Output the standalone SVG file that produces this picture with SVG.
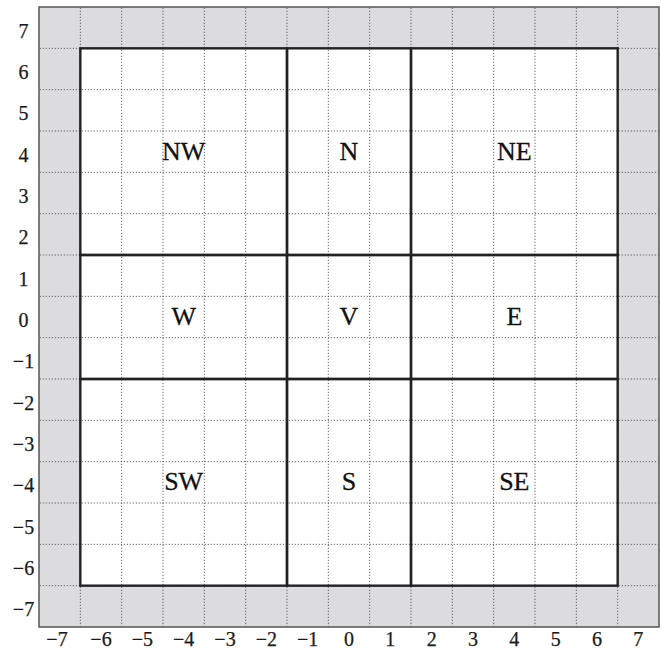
<svg xmlns="http://www.w3.org/2000/svg" width="661" height="651" viewBox="0 0 661 651">
  <style>
    .tick { font-family: "Liberation Serif", "Times New Roman", serif; font-size: 20px; fill: #1a1a1a; stroke: #1a1a1a; stroke-width: 0.25; text-anchor: middle; }
    .lbl { font-family: "Liberation Serif", "Times New Roman", serif; font-size: 26px; fill: #111; stroke: #111; stroke-width: 0.3; text-anchor: middle; }
    .cell { fill: none; stroke: #222; stroke-width: 2.4; }
    .grid { fill: none; stroke: #444; stroke-width: 1; stroke-dasharray: 1 2; }
  </style>
  <rect x="0" y="0" width="661" height="651" fill="#ffffff"/>
  <g id="background">
    <rect x="39" y="7" width="620" height="620" fill="#dcdcde" stroke="#555" stroke-width="1.5"/>
    <rect x="80.33" y="48.33" width="537.33" height="537.33" fill="#ffffff"/>
  </g>
  <g id="grid">
    <path class="grid" d="M80.33 7.8V626.2 M121.67 7.8V626.2 M163 7.8V626.2 M204.33 7.8V626.2 M245.67 7.8V626.2 M287 7.8V626.2 M328.33 7.8V626.2 M369.67 7.8V626.2 M411 7.8V626.2 M452.33 7.8V626.2 M493.67 7.8V626.2 M535 7.8V626.2 M576.33 7.8V626.2 M617.67 7.8V626.2"/>
    <path class="grid" d="M39.8 48.33H658.2 M39.8 89.67H658.2 M39.8 131H658.2 M39.8 172.33H658.2 M39.8 213.67H658.2 M39.8 255H658.2 M39.8 296.33H658.2 M39.8 337.67H658.2 M39.8 379H658.2 M39.8 420.33H658.2 M39.8 461.67H658.2 M39.8 503H658.2 M39.8 544.33H658.2 M39.8 585.67H658.2"/>
  </g>
  <g id="connectors"></g>
  <g id="NW"><rect class="cell" x="80.33" y="48.33" width="206.67" height="206.67"/><text class="lbl" x="183.67" y="160">NW</text></g>
  <g id="N"><rect class="cell" x="287" y="48.33" width="124" height="206.67"/><text class="lbl" x="349" y="160">N</text></g>
  <g id="NE"><rect class="cell" x="411" y="48.33" width="206.67" height="206.67"/><text class="lbl" x="514.33" y="160">NE</text></g>
  <g id="W"><rect class="cell" x="80.33" y="255" width="206.67" height="124"/><text class="lbl" x="183.67" y="325.3">W</text></g>
  <g id="V"><rect class="cell" x="287" y="255" width="124" height="124"/><text class="lbl" x="349" y="325.3">V</text></g>
  <g id="E"><rect class="cell" x="411" y="255" width="206.67" height="124"/><text class="lbl" x="514.33" y="325.3">E</text></g>
  <g id="SW"><rect class="cell" x="80.33" y="379" width="206.67" height="206.67"/><text class="lbl" x="183.67" y="490">SW</text></g>
  <g id="S"><rect class="cell" x="287" y="379" width="124" height="206.67"/><text class="lbl" x="349" y="490">S</text></g>
  <g id="SE"><rect class="cell" x="411" y="379" width="206.67" height="206.67"/><text class="lbl" x="514.33" y="490">SE</text></g>
  <g id="x-axis">
    <text class="tick" x="57" y="646">−7</text>
    <text class="tick" x="101" y="646">−6</text>
    <text class="tick" x="142.33" y="646">−5</text>
    <text class="tick" x="183.67" y="646">−4</text>
    <text class="tick" x="225" y="646">−3</text>
    <text class="tick" x="266.33" y="646">−2</text>
    <text class="tick" x="307.67" y="646">−1</text>
    <text class="tick" x="349" y="646">0</text>
    <text class="tick" x="390.33" y="646">1</text>
    <text class="tick" x="431.67" y="646">2</text>
    <text class="tick" x="473" y="646">3</text>
    <text class="tick" x="514.33" y="646">4</text>
    <text class="tick" x="555.67" y="646">5</text>
    <text class="tick" x="597" y="646">6</text>
    <text class="tick" x="638.33" y="646">7</text>
  </g>
  <g id="y-axis">
    <text class="tick" x="23.5" y="37.7">7</text>
    <text class="tick" x="23.5" y="79">6</text>
    <text class="tick" x="23.5" y="120.3">5</text>
    <text class="tick" x="23.5" y="161.7">4</text>
    <text class="tick" x="23.5" y="203">3</text>
    <text class="tick" x="23.5" y="244.3">2</text>
    <text class="tick" x="23.5" y="285.7">1</text>
    <text class="tick" x="23.5" y="327">0</text>
    <text class="tick" x="23.5" y="368.3">−1</text>
    <text class="tick" x="23.5" y="409.7">−2</text>
    <text class="tick" x="23.5" y="451">−3</text>
    <text class="tick" x="23.5" y="492.3">−4</text>
    <text class="tick" x="23.5" y="533.7">−5</text>
    <text class="tick" x="23.5" y="575">−6</text>
    <text class="tick" x="23.5" y="616.3">−7</text>
  </g>
</svg>
